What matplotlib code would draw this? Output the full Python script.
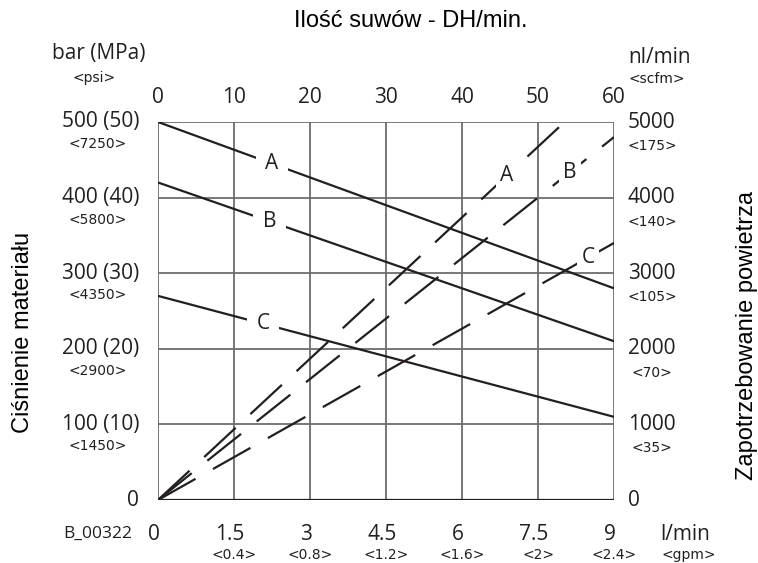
import matplotlib.pyplot as plt
import numpy as np

# strokes per minute (top axis) and the matching flow in l/min (bottom axis)
strokes = [0, 10, 20, 30, 40, 50, 60]
flow_lpm = [0, 1.5, 3, 4.5, 6, 7.5, 9]
flow_gpm = ["", "<0.4>", "<0.8>", "<1.2>", "<1.6>", "<2>", "<2.4>"]

# material pressure (left axis)
press_bar = [0, 100, 200, 300, 400, 500]
press_lbl = ["0", "100 (10)", "200 (20)", "300 (30)", "400 (40)", "500 (50)"]
press_psi = ["", "<1450>", "<2900>", "<4350>", "<5800>", "<7250>"]

# air consumption (right axis)
air_nl = [0, 1000, 2000, 3000, 4000, 5000]
air_scfm = ["", "<35>", "<70>", "<105>", "<140>", "<175>"]

# pressure curves A, B, C (solid)
p_x = [0, 60]
p_A = [500, 280]
p_B = [420, 210]
p_C = [270, 110]

# air curves A, B, C (dashed)
a_xA = [0, 53.5]
a_A = [0, 5000]
a_x = [0, 60]
a_B = [0, 4800]
a_C = [0, 3400]

plt.rcParams['lines.scale_dashes'] = False
ink = '#231f20'
grid = '#6d6d6d'
tick_font = 'Open Sans'
small_font = 'DejaVu Sans'
head_font = 'Liberation Sans'

fig = plt.figure(figsize=(7.58, 5.63), dpi=100)
W, H = 758, 563
ax = fig.add_axes([158 / W, 63 / H, 456 / W, 378 / H])
ax.set_xlim(0, 60)
ax.set_ylim(0, 500)
ax.set_axis_off()

air = ax.twinx()
air.set_ylim(0, 5000)
air.set_axis_off()

# grid and frame
for s in strokes:
    ax.axvline(s, color=grid, lw=1.3, zorder=1)
for p in press_bar:
    ax.axhline(p, color=grid, lw=1.3, zorder=1)
ax.axhline(0, color=ink, lw=1.6, zorder=1)

# curves
for ys in (p_A, p_B, p_C):
    ax.plot(p_x, ys, color=ink, lw=1.6, solid_capstyle='butt', zorder=3)
dash = (0, (31, 14.4))
air.plot(a_xA, a_A, color=ink, lw=1.6, ls=dash, dash_capstyle='butt', zorder=3)
air.plot(a_x, a_B, color=ink, lw=1.6, ls=dash, dash_capstyle='butt', zorder=3)
air.plot(a_x, a_C, color=ink, lw=1.6, ls=dash, dash_capstyle='butt', zorder=3)

# curve letters sitting on the lines
def tag(a, txt, xs, ys, x, pad):
    a.text(x, np.interp(x, xs, ys), txt, ha='center', va='center',
           fontsize=15, family=tick_font, color=ink, zorder=5,
           bbox=dict(fc='white', ec='none', pad=pad))

tag(ax, "A", p_x, p_A, 15.0, 7)
tag(ax, "B", p_x, p_B, 14.7, 7)
tag(ax, "C", p_x, p_C, 13.8, 7)
tag(air, "A", a_xA, a_A, 45.9, 3)
tag(air, "B", a_x, a_B, 54.2, 3)
tag(air, "C", a_x, a_C, 56.6, 3)

px = 1 / 456   # one pixel in axes fraction (x)
py = 1 / 378   # one pixel in axes fraction (y)
big = 15
small = 10

# top axis: strokes
for s in strokes:
    ax.text(s, 1 + 25 * py, str(s), transform=ax.get_xaxis_transform(),
            ha='center', va='center', fontsize=big, family=tick_font, color=ink)

# bottom axis: flow
fx = ax.get_xaxis_transform()
for f, g in zip(flow_lpm, flow_gpm):
    xv = f * 60 / 9
    ax.annotate(f"{f:g}", (xv, -34 * py), xycoords=fx, xytext=(-4, 0),
                textcoords='offset pixels', ha='center', va='center',
                fontsize=big, family=tick_font, color=ink)
    ax.text(xv, -55 * py, g, transform=fx, ha='center', va='center',
            fontsize=small, family=small_font, color=ink)
ax.text(1 + 71 * px, -34 * py, "l/min", transform=ax.transAxes, ha='center',
        va='center', fontsize=big, family=tick_font, color=ink)
ax.text(1 + 75 * px, -55 * py, "<gpm>", transform=ax.transAxes, ha='center',
        va='center', fontsize=small, family=small_font, color=ink)
ax.text(-60 * px, -34 * py, "B_00322", transform=ax.transAxes, ha='center',
        va='center', fontsize=12.5, family=tick_font, color=ink)

# left axis: pressure
ly = ax.get_yaxis_transform()
for p, lab, psi in zip(press_bar, press_lbl, press_psi):
    ax.text(-19 * px, p, lab, transform=ly, ha='right', va='center',
            fontsize=big, family=tick_font, color=ink)
    ax.annotate(psi, (-60 * px, p), xycoords=ly, xytext=(0, -22),
                textcoords='offset pixels', ha='center', va='center',
                fontsize=small, family=small_font, color=ink)
ax.text(-59 * px, 1 + 68 * py, "bar (MPa)", transform=ax.transAxes,
        ha='center', va='center', fontsize=big, family=tick_font, color=ink)
ax.text(-64 * px, 1 + 44 * py, "<psi>", transform=ax.transAxes,
        ha='center', va='center', fontsize=small, family=small_font, color=ink)

# right axis: air
ry = air.get_yaxis_transform()
for a, sc in zip(air_nl, air_scfm):
    air.text(1 + 14 * px, a, str(a), transform=ry, ha='left', va='center',
             fontsize=big, family=tick_font, color=ink)
    air.annotate(sc, (1 + 38 * px, a), xycoords=ry, xytext=(0, -24),
                 textcoords='offset pixels', ha='center', va='center',
                 fontsize=small, family=small_font, color=ink)
ax.text(1 + 14 * px, 1 + 65 * py, "nl/min", transform=ax.transAxes,
        ha='left', va='center', fontsize=big, family=tick_font, color=ink)
ax.text(1 + 43 * px, 1 + 43 * py, "<scfm>", transform=ax.transAxes,
        ha='center', va='center', fontsize=small, family=small_font, color=ink)

# titles
fig.text(411 / W, 1 - 21 / H, "Ilość suwów - DH/min.", ha='center',
         va='center', fontsize=17, family=head_font, color='black')
fig.text(23 / W, 1 - 332 / H, "Ciśnienie materiału", rotation=90,
         ha='center', va='center', fontsize=17, family=head_font, color='black')
fig.text(747 / W, 1 - 336 / H, "Zapotrzebowanie powietrza", rotation=90,
         ha='center', va='center', fontsize=17, family=head_font, color='black')

fig.savefig("out.png", dpi=100)
